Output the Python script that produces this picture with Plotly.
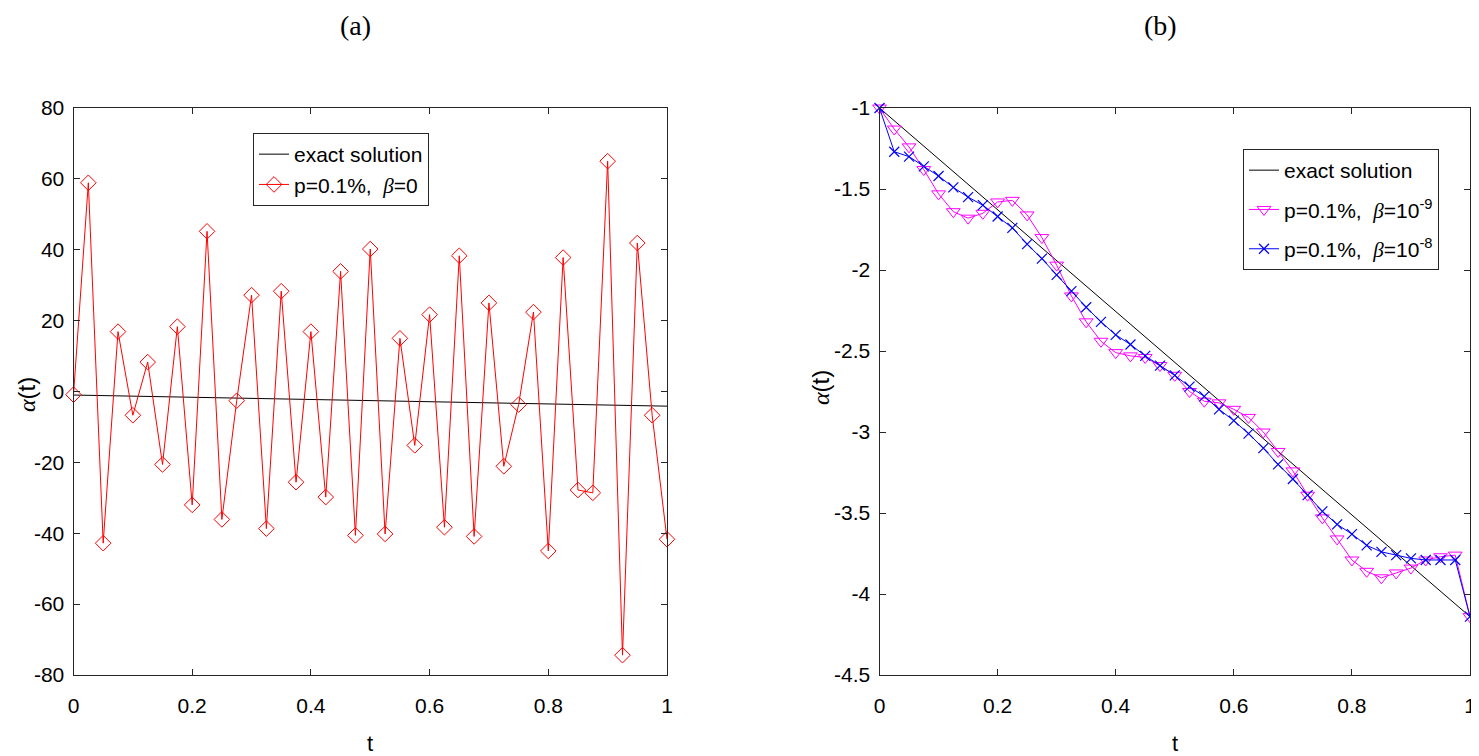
import plotly.graph_objects as go

# ---------------- data ----------------
t = [0.0, 0.025, 0.05, 0.075, 0.1, 0.125, 0.15, 0.175, 0.2, 0.225,
     0.25, 0.275, 0.3, 0.325, 0.35, 0.375, 0.4, 0.425, 0.45, 0.475,
     0.5, 0.525, 0.55, 0.575, 0.6, 0.625, 0.65, 0.675, 0.7, 0.725,
     0.75, 0.775, 0.8, 0.825, 0.85, 0.875, 0.9, 0.925, 0.95, 0.975, 1.0]

exact_t = [0.0, 1.0]
exact_alpha = [-1.0, -4.14]

alpha_beta0 = [-0.9, 58.9, -42.8, 16.9, -6.7, 8.3, -20.6, 18.3, -32.0, 45.2,
               -36.1, -2.6, 27.2, -38.7, 28.3, -25.6, 16.9, -29.8, 33.9, -40.6,
               40.2, -40.2, 15.0, -15.2, 21.7, -38.3, 38.3, -40.9, 25.0, -21.1,
               -3.7, 22.4, -45.0, 37.8, -27.8, -28.6, 65.0, -74.4, 41.9, -6.7, -41.7]

alpha_beta1e9 = [-1.00, -1.13, -1.24, -1.38, -1.53, -1.64, -1.68, -1.65, -1.58, -1.57,
                 -1.66, -1.80, -1.97, -2.16, -2.32, -2.44, -2.51, -2.53, -2.54, -2.59,
                 -2.65, -2.75, -2.81, -2.82, -2.86, -2.91, -3.00, -3.12, -3.24, -3.39,
                 -3.53, -3.66, -3.79, -3.86, -3.90, -3.87, -3.84, -3.79, -3.77, -3.76, -4.14]

alpha_beta1e8 = [-1.00, -1.27, -1.30, -1.36, -1.42, -1.49, -1.55, -1.60, -1.67, -1.74,
                 -1.84, -1.93, -2.03, -2.13, -2.23, -2.32, -2.40, -2.46, -2.53, -2.59,
                 -2.65, -2.72, -2.78, -2.86, -2.93, -3.01, -3.10, -3.20, -3.29, -3.39,
                 -3.49, -3.57, -3.63, -3.70, -3.74, -3.76, -3.78, -3.79, -3.79, -3.79, -4.14]

x_ticks = [0, 0.2, 0.4, 0.6, 0.8, 1]
x_ticktext = ["0", "0.2", "0.4", "0.6", "0.8", "1"]
ya_ticks = [-80, -60, -40, -20, 0, 20, 40, 60, 80]
ya_ticktext = ["-80", "-60", "-40", "-20", "0", "20", "40", "60", "80"]
yb_ticks = [-4.5, -4, -3.5, -3, -2.5, -2, -1.5, -1]
yb_ticktext = ["-4.5", "-4", "-3.5", "-3", "-2.5", "-2", "-1.5", "-1"]

# ---------------- figure ----------------
OFF = 8                      # page body margin in the browser
W, H = 1479 - OFF, 756 - OFF


def px(x):                   # page x (reference pixels) -> paper fraction
    return (x - OFF) / W


def py(y):                   # page y (reference pixels) -> paper fraction
    return 1 - (y - OFF) / H


SANS = "Liberation Sans, Arial, Helvetica, sans-serif"
SERIF = "Liberation Serif, DejaVu Serif, serif"
BETA = "<span style='font-family:Liberation Serif, serif'><i>β</i></span>"
ALPHA = "<span style='font-family:Liberation Serif, serif'><i>α</i></span>"

fig = go.Figure()

fig.add_trace(go.Scatter(x=exact_t, y=exact_alpha, mode="lines",
                         line=dict(color="black", width=1),
                         name="exact solution", xaxis="x", yaxis="y",
                         legend="legend"))
fig.add_trace(go.Scatter(x=t, y=alpha_beta0, mode="lines+markers",
                         line=dict(color="#ff0000", width=1),
                         marker=dict(symbol="diamond-open", size=12,
                                     color="#ff0000", line=dict(width=1)),
                         name="p=0.1%,  " + BETA + "=0", xaxis="x", yaxis="y",
                         legend="legend", cliponaxis=False))

fig.add_trace(go.Scatter(x=exact_t, y=exact_alpha, mode="lines",
                         line=dict(color="black", width=1),
                         name="exact solution", xaxis="x2", yaxis="y2",
                         legend="legend2", legendgroup="g1"))
fig.add_trace(go.Scatter(x=t, y=alpha_beta1e9, mode="lines+markers",
                         line=dict(color="#ff00ff", width=1),
                         marker=dict(symbol="triangle-down-open", size=12,
                                     color="#ff00ff", line=dict(width=1)),
                         name="p=0.1%,  " + BETA + "=10<sup>-9</sup>",
                         xaxis="x2", yaxis="y2", legend="legend2", legendgroup="g2",
                         cliponaxis=False))
fig.add_trace(go.Scatter(x=t, y=alpha_beta1e8, mode="lines+markers",
                         line=dict(color="#0000ff", width=1),
                         marker=dict(symbol="x-thin-open", size=10,
                                     color="#0000ff", line=dict(width=1.2, color="#0000ff")),
                         name="p=0.1%,  " + BETA + "=10<sup>-8</sup>",
                         xaxis="x2", yaxis="y2", legend="legend2", legendgroup="g3",
                         cliponaxis=False))

axis_common = dict(showline=True, linecolor="#262626", linewidth=1, mirror="ticks",
                   ticks="inside", ticklen=6, tickcolor="#262626", tickwidth=1,
                   showgrid=False, zeroline=False, automargin=False,
                   tickfont=dict(family=SANS, size=21, color="black"))

ydom = [py(675), py(108)]
fig.update_layout(
    width=W, height=H,
    margin=dict(l=0, r=0, t=0, b=0, pad=0, autoexpand=False),
    paper_bgcolor="white", plot_bgcolor="white",
    xaxis=dict(domain=[px(73.5), px(667)], range=[0, 1], anchor="y",
               tickvals=x_ticks, ticktext=x_ticktext, ticklabelstandoff=12, **axis_common),
    yaxis=dict(domain=ydom, range=[-80, 80], anchor="x",
               tickvals=ya_ticks, ticktext=ya_ticktext, ticklabelstandoff=4, **axis_common),
    xaxis2=dict(domain=[px(879.5), px(1470)], range=[0, 1], anchor="y2",
                tickvals=x_ticks, ticktext=x_ticktext, ticklabelstandoff=12, **axis_common),
    yaxis2=dict(domain=ydom, range=[-4.5, -1], anchor="x2",
                tickvals=yb_ticks, ticktext=yb_ticktext, ticklabelstandoff=4, **axis_common),
    legend=dict(x=px(253), y=py(133), xanchor="left", yanchor="top",
                bgcolor="white", bordercolor="#262626", borderwidth=1,
                font=dict(family=SANS, size=21, color="black"),
                tracegroupgap=0, itemwidth=30),
    legend2=dict(x=px(1243), y=py(149), xanchor="left", yanchor="top",
                 bgcolor="white", bordercolor="#262626", borderwidth=1,
                 font=dict(family=SANS, size=21, color="black"),
                 traceorder="grouped", tracegroupgap=9, itemwidth=30),
    showlegend=True,
)

annotations = [
    dict(text="(a)", x=px(355), y=1.0, xref="paper", yref="paper",
         showarrow=False, font=dict(family=SERIF, size=28, color="black"),
         xanchor="center", yanchor="top"),
    dict(text="(b)", x=px(1160), y=1.0, xref="paper", yref="paper",
         showarrow=False, font=dict(family=SERIF, size=28, color="black"),
         xanchor="center", yanchor="top"),
    dict(text="t", x=px(370), y=py(743), xref="paper", yref="paper",
         showarrow=False, font=dict(family=SANS, size=22, color="black"),
         xanchor="center", yanchor="middle"),
    dict(text="t", x=px(1175), y=py(743), xref="paper", yref="paper",
         showarrow=False, font=dict(family=SANS, size=22, color="black"),
         xanchor="center", yanchor="middle"),
    dict(text=ALPHA + "(t)", x=px(27), y=py(395), xref="paper", yref="paper",
         showarrow=False, textangle=-90, font=dict(family=SANS, size=24, color="black"),
         xanchor="center", yanchor="middle"),
    dict(text=ALPHA + "(t)", x=px(820), y=py(388), xref="paper", yref="paper",
         showarrow=False, textangle=-90, font=dict(family=SANS, size=24, color="black"),
         xanchor="center", yanchor="middle"),
]
fig.update_layout(annotations=annotations)

fig.write_html("out.html")
